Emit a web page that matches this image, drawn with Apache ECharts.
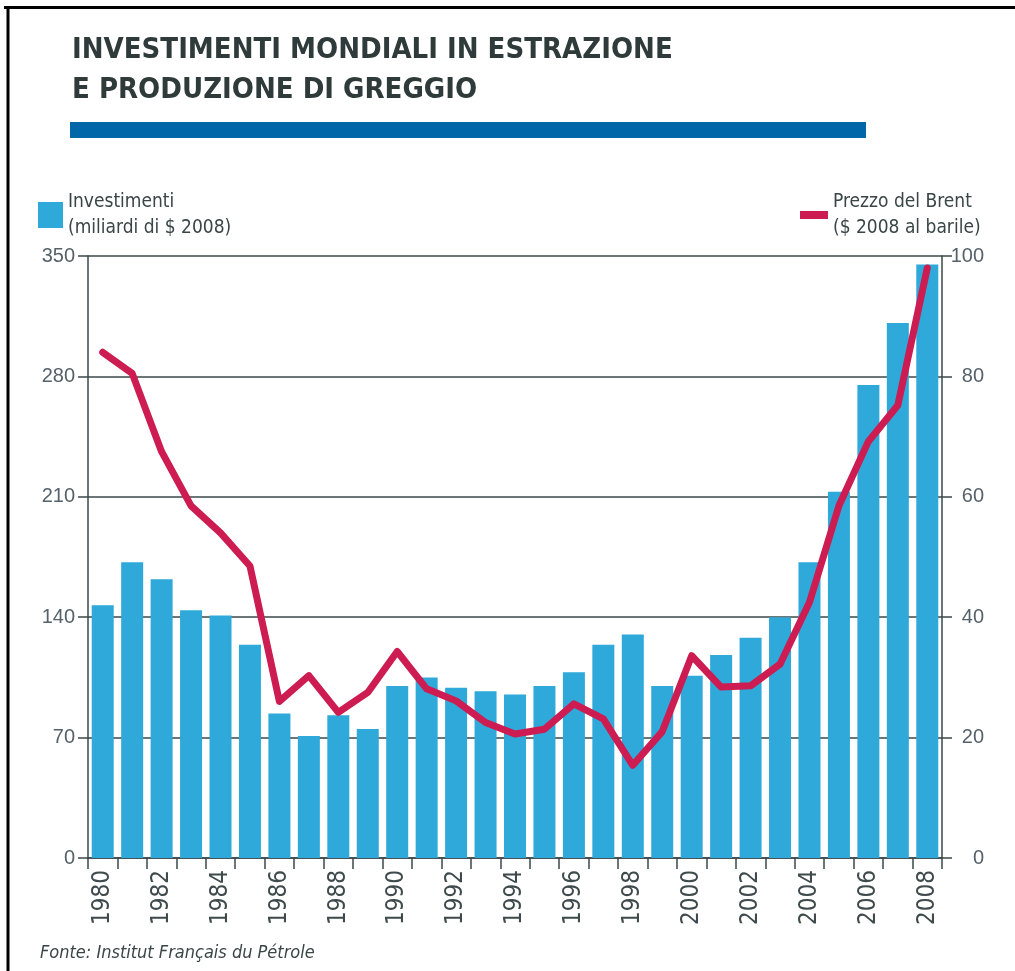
<!DOCTYPE html>
<html>
<head>
<meta charset="utf-8">
<title>Investimenti mondiali in estrazione e produzione di greggio</title>
<script src="https://cdn.jsdelivr.net/npm/echarts@6/dist/echarts.min.js"></script>
<style>
  html, body { margin: 0; padding: 0; background: #fff; }
  #chart { width: 1015px; height: 971px; }
</style>
</head>
<body>
<div id="chart"></div>
<script>
  // dati
  var anni = ['1980', '1981', '1982', '1983', '1984', '1985', '1986', '1987', '1988', '1989',
    '1990', '1991', '1992', '1993', '1994', '1995', '1996', '1997', '1998', '1999',
    '2000', '2001', '2002', '2003', '2004', '2005', '2006', '2007', '2008'];
  // miliardi di $ 2008
  var investimenti = [147, 172, 162, 144, 141, 124, 84, 71, 83, 75,
    100, 105, 99, 97, 95, 100, 108, 124, 130, 100,
    106, 118, 128, 140, 172, 213, 275, 311, 345];
  // $ 2008 al barile
  var brent = [84, 80.5, 67.5, 58.5, 54, 48.5, 26, 30.3, 24.2, 27.5,
    34.3, 28.1, 26.1, 22.5, 20.6, 21.4, 25.6, 23.1, 15.4, 21,
    33.6, 28.4, 28.6, 32.2, 42.5, 58.5, 69.2, 75.2, 98];
  var tickSinistra = [0, 350, 70];
  var tickDestra = [0, 100, 20];

  var narrow = '"DejaVu Sans Condensed", "Liberation Sans Narrow", sans-serif';
  var axisColor = '#3b4849';
  var textColor = '#3a4545';

  var chart = echarts.init(document.getElementById('chart'));

  var option = {
    animation: false,
    title: {
      text: 'INVESTIMENTI MONDIALI IN ESTRAZIONE\nE PRODUZIONE DI GREGGIO',
      left: 67,
      top: 25,
      textStyle: {
        fontFamily: narrow,
        fontWeight: 'bold',
        fontSize: 29,
        lineHeight: 40,
        color: '#2f3a3a'
      }
    },
    legend: [{
      data: ['Investimenti'],
      left: 33,
      top: 184,
      icon: 'rect',
      itemWidth: 25,
      itemHeight: 26,
      selectedMode: false,
      formatter: function(name) {
        return name + '\n(miliardi di $ 2008)';
      },
      textStyle: { fontFamily: narrow, fontSize: 19, lineHeight: 26, color: textColor }
    }, {
      data: ['Prezzo del Brent'],
      left: 795,
      top: 184,
      icon: 'rect',
      itemWidth: 28,
      itemHeight: 8,
      selectedMode: false,
      formatter: function(name) {
        return name + '\n($ 2008 al barile)';
      },
      textStyle: { fontFamily: narrow, fontSize: 19, lineHeight: 26, color: textColor }
    }],
    grid: {
      left: 88,
      right: 73,
      top: 256,
      bottom: 113,
      containLabel: false
    },
    xAxis: {
      type: 'category',
      data: anni,
      boundaryGap: true,
      axisLine: { lineStyle: { color: axisColor, width: 1.5 } },
      axisTick: { show: true, interval: 0, length: 11, lineStyle: { color: axisColor, width: 1.5 } },
      axisLabel: {
        interval: 1,
        rotate: 90,
        margin: 12,
        fontFamily: narrow,
        fontSize: 24,
        color: '#3f4a4c'
      }
    },
    yAxis: [{
      type: 'value',
      min: tickSinistra[0],
      max: tickSinistra[1],
      interval: tickSinistra[2],
      axisLine: { show: true, lineStyle: { color: axisColor, width: 1.5 } },
      axisTick: { show: true, length: 10, lineStyle: { color: axisColor, width: 1.5 } },
      splitLine: { show: true, lineStyle: { color: axisColor, width: 1.5 } },
      axisLabel: { margin: 13, fontFamily: 'Liberation Sans, Arial, sans-serif', fontSize: 20, color: '#56626a' }
    }, {
      type: 'value',
      min: tickDestra[0],
      max: tickDestra[1],
      interval: tickDestra[2],
      position: 'right',
      axisLine: { show: true, lineStyle: { color: axisColor, width: 1.5 } },
      axisTick: { show: true, length: 10, lineStyle: { color: axisColor, width: 1.5 } },
      splitLine: { show: false },
      axisLabel: { margin: 42, align: 'right', fontFamily: 'Liberation Sans, Arial, sans-serif', fontSize: 20, color: '#56626a' }
    }],
    series: [{
      name: 'Investimenti',
      type: 'bar',
      data: investimenti,
      barWidth: 22,
      itemStyle: { color: '#2fa9da' },
      z: 2
    }, {
      name: 'Prezzo del Brent',
      type: 'line',
      yAxisIndex: 1,
      data: brent,
      showSymbol: false,
      symbol: 'none',
      itemStyle: { color: '#cc1c52' },
      lineStyle: { color: '#cc1c52', width: 7, join: 'round', cap: 'round' },
      z: 3
    }],
    graphic: [{
      // barra blu sotto il titolo
      type: 'rect',
      shape: { x: 70, y: 122, width: 796, height: 16 },
      style: { fill: '#0067a9' }
    }, {
      type: 'line',
      shape: { x1: 4, y1: 7.5, x2: 1015, y2: 7.5 },
      style: { stroke: '#000', lineWidth: 3 }
    }, {
      type: 'line',
      shape: { x1: 8, y1: 6, x2: 8, y2: 971 },
      style: { stroke: '#000', lineWidth: 3 }
    }, {
      type: 'text',
      left: 40,
      top: 944,
      style: {
        text: 'Fonte: Institut Français du Pétrole',
        fontFamily: narrow,
        fontStyle: 'italic',
        fontSize: 18,
        fill: '#3a4545'
      }
    }]
  };

  chart.setOption(option);
</script>
</body>
</html>
